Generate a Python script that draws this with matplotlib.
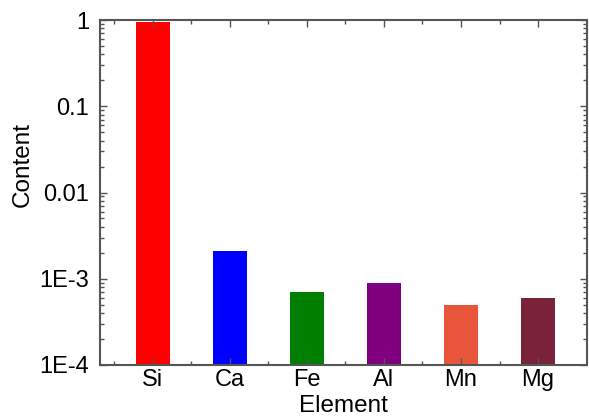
import matplotlib.pyplot as plt
from matplotlib.ticker import FixedLocator, FixedFormatter, LogLocator, NullFormatter

plt.rcParams['font.family'] = ['Liberation Sans', 'DejaVu Sans']

elements = ["Si", "Ca", "Fe", "Al", "Mn", "Mg"]
content = [0.95, 0.0021, 0.0007, 0.0009, 0.0005, 0.0006]
colors = ["#FF0000", "#0000FF", "#008000", "#800080", "#E8553A", "#7A2239"]
y_ticks = [1e-4, 1e-3, 1e-2, 1e-1, 1]
y_labels = ["1E-4", "1E-3", "0.01", "0.1", "1"]

fig = plt.figure(figsize=(5.89, 4.19), dpi=100)
ax = fig.add_axes([0.17, 0.129, 0.826, 0.823])

x = list(range(1, len(elements) + 1))
ax.bar(x, content, width=0.44, color=colors)

ax.set_yscale("log")
ax.set_ylim(1e-4, 1)
ax.set_xlim(0.318, 6.63)

ax.yaxis.set_major_locator(FixedLocator(y_ticks))
ax.yaxis.set_major_formatter(FixedFormatter(y_labels))
ax.yaxis.set_minor_locator(LogLocator(base=10, subs=range(2, 10)))
ax.yaxis.set_minor_formatter(NullFormatter())

ax.set_xticks(x)
ax.set_xticklabels(elements)
ax.set_xticks([i + 0.5 for i in x[:-1]] + [0.5], minor=True)

ax.tick_params(which="both", direction="in", top=True, right=True,
               labelsize=17, colors="#555555", labelcolor="black")
ax.tick_params(which="major", length=5, width=1)
ax.tick_params(which="minor", length=3, width=1)
ax.tick_params(axis="x", pad=3)
ax.tick_params(axis="y", pad=8)

for spine in ax.spines.values():
    spine.set_color("#555555")
    spine.set_linewidth(1.5)

ax.set_ylabel("Content", fontsize=17.5)
ax.yaxis.set_label_coords(-0.137, 0.58)
ax.set_xlabel("Element", fontsize=17.5, labelpad=3)

fig.savefig("out.png", dpi=100)
